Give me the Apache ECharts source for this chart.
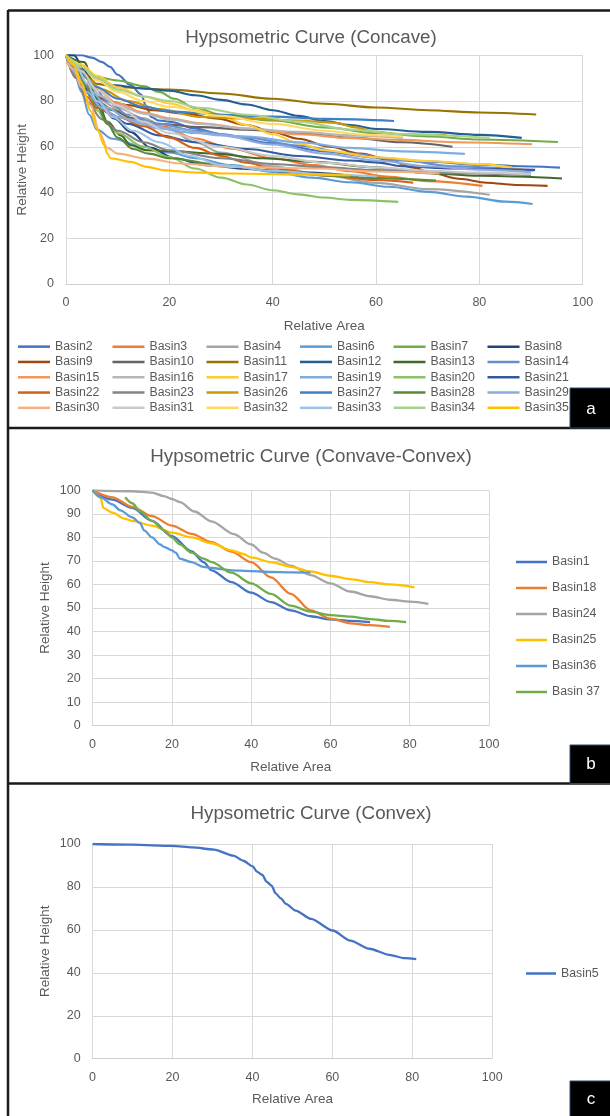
<!DOCTYPE html>
<html><head><meta charset="utf-8">
<script src="https://cdn.jsdelivr.net/npm/echarts@6/dist/echarts.min.js"></script>
<style>html,body{margin:0;padding:0;background:#fff}#c{width:610px;height:1116px}</style>
</head><body><div id="c"></div>
<script>
// ---------- Panel a: concave basins (x = relative area, y = relative height) ----------
const concaveNames = ['Basin2','Basin3','Basin4','Basin6','Basin7','Basin8','Basin9','Basin10','Basin11','Basin12','Basin13','Basin14','Basin15','Basin16','Basin17','Basin19','Basin20','Basin21','Basin22','Basin23','Basin26','Basin27','Basin28','Basin29','Basin30','Basin31','Basin32','Basin33','Basin34','Basin35'];
const concaveColors = ['#4472C4','#ED7D31','#A5A5A5','#5B9BD5','#70AD47','#264478','#9E480E','#636363','#997300','#255E91','#43682B','#698ED0','#F1975A','#B7B7B7','#FFCD33','#7CAFDD','#8CC168','#335AA1','#D26012','#848484','#CC9A00','#3F7FC4','#5A8A39','#8FAADC','#F4B183','#C9C9C9','#FFD966','#9DC3E6','#A9D18E','#FFC000'];

const basin2  = [[0,100],[3,100],[5,99],[7,97],[8.5,95],[10,91.5],[12.5,87],[14.5,83],[15.5,78],[16.5,73],[18,71.5],[20,71],[25,68],[30,65.5],[40,61.5],[50,58],[60,55.3],[70,53.5],[80,52.2],[90,51.4],[95.6,50.9]];
const basin3  = [[0,100],[2,93],[4,85],[6,80],[9,76.5],[12.5,72.5],[19,68.7],[25,63.6],[32,59.2],[40,55],[48,52],[55,49.3],[62,47],[70,45],[80.6,42.9]];
const basin4  = [[0,100],[2,92],[4,86],[6,81],[10,77],[15,72.5],[20,67.5],[25,62],[30,57.5],[40,51.5],[50,47.5],[60,44.2],[70,41.5],[82,39]];
const basin6  = [[0,100],[1.5,93],[3,84],[4.5,74],[6,67.5],[9,63.5],[15,60],[20,57.5],[25,55],[32,52],[40,49],[47.5,46.5],[55,44.5],[62.5,42.5],[70,40.3],[77.6,38.2],[85,36],[90.3,35]];
const basin7  = [[0,100],[2,96],[4,92.5],[6,90.5],[10,89],[15,86.5],[18,84],[21,81],[25,77],[30,74],[40,71.5],[50,68.5],[60,66],[70,64.5],[80,63.2],[95.2,62.1]];
const basin8  = [[0,100],[1.5,100],[3.5,94],[5.4,83],[7.4,76],[9.3,72.4],[12.5,66.5],[16.4,59.5],[21,55],[27,52],[35,50.3],[45,48.8],[56.6,47]];
const basin9  = [[0,100],[2,94],[4,87],[6,82],[8,80],[12,78.2],[17,76],[23,74.5],[29,72.4],[35,69.5],[40,66.5],[45,63.5],[51,60],[57,57],[62.5,54.2],[67,51],[71,48.4],[76,46],[81.4,44.3],[87,43.3],[93.2,42.9]];
const basin10 = [[0,100],[2,93],[4,86],[6,80],[9,76],[13,72.5],[18,70],[26,68.6],[35,67.5],[45,66],[55,64],[65,62],[74.8,60]];
const basin11 = [[0,100],[2,96],[4,91],[6,87.5],[10,86],[20,85],[30,83.3],[40,81],[50,78.8],[60,77.2],[70,76],[80,75],[91,74.1]];
const basin12 = [[0,100],[3,95],[6,90],[9,87],[15,85.5],[20,84.5],[25,82.5],[30,80.5],[35,78.5],[40,76],[45,73.5],[50,71.2],[55,69.5],[60,67.8],[70,66.5],[80,65.2],[88.2,63.9]];
const basin13 = [[0,100],[3.5,97],[6,81],[8,71],[10.6,65],[12.5,60.7],[15.7,58.5],[21,58],[28.6,57],[38,55],[48,53.4],[60,51],[70,48.5],[80,47.3],[96,46.1]];
const basin14 = [[0,100],[2,95],[5,88],[8,80],[12,74],[18,70],[25,67],[35,64],[45,60.5],[55,57],[65,54],[75,51.5],[90.5,49.5]];
const basin15 = [[0,100],[3,92],[6,85],[10,79],[15,75],[20,72.5],[26,70.3],[35,68],[45,65.5],[55,63.8],[65,63],[75,62],[90.2,61.1]];
const basin16 = [[0,100],[2,94],[4,88],[7,82],[10,78],[15,74.5],[20,72],[26,70],[35,68],[45,66.5],[55,65],[65.2,63.8]];
const basin17 = [[0,100],[3,96],[6,91],[10,86],[15,82],[20,79],[25,76],[30,73.5],[35,69.5],[40,65.5],[45,61.5],[50,58.5],[60,55.4],[70,53.8],[80,52.4],[88.5,49.9]];
const basin19 = [[0,100],[2,93],[5,84],[8,77],[12,72],[18,68],[25,66],[35,64.5],[45,62],[55,59.5],[65,58],[77.2,56.9]];
const basin20 = [[0,100],[2,92],[4,84],[6,76],[8,70],[10,66],[15,60],[20,55.5],[25,50.5],[30,46.5],[35,43.5],[40,41],[45,39.2],[50,37.8],[55,36.8],[64.3,35.9]];
const basin21 = [[0,100],[2,92],[5,82],[8,75],[12,70],[18,65],[25,62],[35,59],[45,56],[55,54],[60,53.2],[65,51.5],[75,50.5],[90.8,49.9]];
const basin22 = [[0,100],[2,90],[4,82],[6,77],[10,73],[15,69],[20,64],[25,59.5],[30,56],[35,53],[40,50.5],[50,47.5],[60,45.5],[67.2,44.3]];
const basin23 = [[0,100],[2,90],[4,80],[7,72],[10,67],[15,62],[20,58.5],[30,55],[40,52.5],[50,51],[60,49.8],[75,48.5],[90,47.7]];
const basin26 = [[0,100],[2,95],[4,90],[7,85],[12,80],[18,76.5],[26,73],[35,72.3],[45,71.5],[52,70.5],[56,68.5],[60,66.5],[65,65.5],[73.7,65.2]];
const basin27 = [[0,100],[3,92],[6,86],[10,81],[15,77.5],[20,75.5],[30,74],[40,73.2],[50,72.2],[63.5,71.3]];
const basin28 = [[0,100],[2,94],[4,86],[6,78],[8,70],[10,64],[13,59],[16,57],[20,55],[30,52],[40,49.5],[50,47.5],[60,46.3],[71.6,45.2]];
const basin29 = [[0,100],[2,92],[4,84],[7,77],[10,73],[15,70],[20,68],[30,65],[40,61],[50,57],[60,54],[70,51.5],[80,50],[90,48.8]];
const basin30 = [[0,97],[1.5,94],[3,86],[4.8,78],[6.5,66],[8,59.5],[10,57],[15.7,54.8],[22,52.7],[32,51.2],[48,50.5],[60,49.2],[72.3,48.3]];
const basin31 = [[0,100],[3,93],[6,85],[10,78],[15,71],[20,66],[30,60],[40,56],[50,53],[60,51],[70,49.5],[80,48.7],[90,48]];
const basin32 = [[0,100],[3,95],[6,89],[10,84],[15,80],[20,77.5],[30,73.5],[40,70],[50,67],[58,65.2],[65.3,64.4]];
const basin33 = [[0,100],[2,95],[4,88],[6,80],[9,73],[13,67],[18,62],[24,56],[30,52],[40,49.5],[50,48],[60.1,47]];
const basin34 = [[0,100],[3,95],[6,90],[10,85],[15,82],[20,80],[26,77],[35,74],[45,71],[55,67.5],[65,65.5],[82,63.9]];
const basin35 = [[0,100],[1.5,96],[3,88],[4.8,75.5],[6,68],[7.4,60.7],[8,57],[8.6,55],[12.5,53.4],[15.7,51.2],[19,49.7],[25.4,48.7],[32,48.3],[48,47.8],[55,47.5]];
const concaveData = [basin2,basin3,basin4,basin6,basin7,basin8,basin9,basin10,basin11,basin12,basin13,basin14,basin15,basin16,basin17,basin19,basin20,basin21,basin22,basin23,basin26,basin27,basin28,basin29,basin30,basin31,basin32,basin33,basin34,basin35];

// ---------- Panel b: concave-convex basins ----------
const ccNames = ['Basin1','Basin18','Basin24','Basin25','Basin36','Basin 37'];
const ccColors = ['#4472C4','#ED7D31','#A5A5A5','#FFC000','#5B9BD5','#70AD47'];
const basin1  = [[0,100],[5,96],[10,92.5],[15,87],[20,80.5],[25,74],[28,69.5],[30,66],[35,61],[40,56.5],[45,52.5],[50,49],[55,46.5],[60,45.2],[65,44.5],[70,44]];
const basin18 = [[0,100],[5,97],[10,93],[15,89],[20,85],[25,81.5],[30,78],[35,74],[40,69.5],[45,63],[50,56],[55,49],[60,45.5],[65,43.5],[70,42.7],[75,42]];
const basin24 = [[0,100],[10,99.6],[15,99],[18,97.5],[20,96.3],[22,95],[25.7,91],[30,86.8],[35.6,81.4],[40,77],[43,73.5],[46,71],[50,68],[55,64],[60,60.5],[65,57],[70,55],[75,53.5],[80,52.7],[84.7,51.8]];
const basin25 = [[0,100],[2,97],[2.7,92.5],[5,90.5],[8,88],[10,87],[15,85],[20,82],[25,80],[30,77.5],[35,74.5],[38,73],[40,71.5],[45,69.5],[50,67.5],[55,65.5],[60,63.7],[65,62.3],[70,61],[75,60],[81.2,58.8]];
const basin36 = [[0,100],[2,97],[5,94],[7,91.5],[10,88.5],[12,86],[13,83],[15,80],[17,77],[18,76],[20,74.5],[21,73.5],[22,71],[25,69.5],[28,67.5],[30,67],[35,66],[40,65.7],[45,65.3],[50,65.1],[55,65]];
const basin37 = [[8.2,97],[10,94.5],[12,91],[15,87],[18,83],[20,80],[22,77],[25,73.5],[28,71],[30,69.5],[35,65],[40,60.5],[45,56],[50,51],[55,48.5],[60,47],[65,46.3],[70,45.3],[75,44.5],[79.1,44]];
const ccData = [basin1,basin18,basin24,basin25,basin36,basin37];

// ---------- Panel c: convex basin ----------
const convexNames = ['Basin5'];
const convexColors = ['#4472C4'];
const basin5 = [[0,100],[10,99.7],[20,99.1],[25,98.4],[30.4,97.4],[35.2,94.6],[37.7,92.2],[40.1,89.6],[41.1,87.1],[42.5,85.6],[43.5,82.5],[44.8,80.6],[45.8,77],[47.1,74.7],[48.4,72.1],[50.8,69],[54.7,65.1],[60.1,59.7],[64.5,55],[69.3,51.2],[74.2,48.4],[78.1,46.8],[81,46.4]];
const convexData = [basin5];

const titles = ['Hypsometric Curve (Concave)','Hypsometric Curve (Convave-Convex)','Hypsometric Curve (Convex)'];
const panelLetters = ['a','b','c'];
const xName = 'Relative Area';
const yName = 'Relative Height';

// ---------- styling ----------
const FONT = '"Liberation Sans", Arial, sans-serif';
const TXT = '#595959';
const GRIDC = '#d9d9d9';

function xAxisCfg(gi, gap){
  return {type:'value', gridIndex:gi, min:0, max:100, interval:20,
    name:xName, nameLocation:'middle', nameGap:gap, nameMoveOverlap:false,
    nameTextStyle:{color:TXT, fontSize:13.5, fontFamily:FONT},
    axisLine:{show:true, lineStyle:{color:'#cfcfcf', width:1}},
    axisTick:{show:false},
    axisLabel:{color:TXT, fontSize:12.5, fontFamily:FONT, margin:12},
    splitLine:{show:true, lineStyle:{color:GRIDC, width:1}}};
}
function yAxisCfg(gi, interval, gap){
  return {type:'value', gridIndex:gi, min:0, max:100, interval:interval,
    name:yName, nameLocation:'middle', nameGap:gap, nameMoveOverlap:false,
    nameTextStyle:{color:TXT, fontSize:13.5, fontFamily:FONT},
    axisLine:{show:false}, axisTick:{show:false},
    axisLabel:{color:TXT, fontSize:12.5, fontFamily:FONT, margin:12},
    splitLine:{show:true, lineStyle:{color:GRIDC, width:1}}};
}

const series = [];
function addSeries(names, colors, datas, gi, width, smooth){
  names.forEach((n,i)=>{
    series.push({type:'line', name:n, xAxisIndex:gi, yAxisIndex:gi, data:datas[i],
      symbol:'none', smooth:smooth, smoothMonotone:'x', color:colors[i],
      lineStyle:{width:width, color:colors[i]}, emphasis:{disabled:true}, silent:true});
  });
}
addSeries(concaveNames, concaveColors, concaveData, 0, 2.1, 0.35);
addSeries(ccNames, ccColors, ccData, 1, 2.3, 0.3);
addSeries(convexNames, convexColors, convexData, 2, 2.3, 0.25);

const legendText = {color:TXT, fontSize:12.3, fontFamily:FONT};
const legends = [];
const colLeft = [18, 112.5, 206.5, 300, 393.5, 487.5];
colLeft.forEach((lx,c)=>{
  const d = [];
  for (let r=0; r<5; r++) d.push(concaveNames[r*6+c]);
  legends.push({data:d, orient:'vertical', left:lx, top:339, padding:0, itemGap:0,
    icon:'rect', itemWidth:32, itemHeight:2.5, textStyle:Object.assign({lineHeight:15.3}, legendText),
    selectedMode:false});
});
legends.push({data:ccNames, orient:'vertical', left:516, top:554.5, padding:0, itemGap:11,
  icon:'rect', itemWidth:31, itemHeight:2.5, textStyle:Object.assign({lineHeight:15}, legendText), selectedMode:false});
legends.push({data:convexNames, orient:'vertical', left:526, top:966, padding:0, itemGap:0,
  icon:'rect', itemWidth:30, itemHeight:2.5, textStyle:Object.assign({lineHeight:15}, legendText), selectedMode:false});

const graphics = [
  {type:'line', shape:{x1:8, y1:10.5, x2:610, y2:10.5}, style:{stroke:'#1a1a1a', lineWidth:2.5}},
  {type:'line', shape:{x1:8, y1:10, x2:8, y2:1116}, style:{stroke:'#1a1a1a', lineWidth:2.5}},
  {type:'line', shape:{x1:8, y1:428, x2:610, y2:428}, style:{stroke:'#1a1a1a', lineWidth:2.5}},
  {type:'line', shape:{x1:8, y1:783.5, x2:610, y2:783.5}, style:{stroke:'#1a1a1a', lineWidth:2.5}},
  {type:'rect', shape:{x:570, y:388, width:41, height:40}, style:{fill:'#000', stroke:'#2f4a6e', lineWidth:1}},
  {type:'rect', shape:{x:570, y:745, width:41, height:38.5}, style:{fill:'#000', stroke:'#2f4a6e', lineWidth:1}},
  {type:'rect', shape:{x:570, y:1081, width:41, height:36}, style:{fill:'#000', stroke:'#2f4a6e', lineWidth:1}}
];
const letterPos = [[591,409],[591,764],[591,1099]];
panelLetters.forEach((t,i)=>{
  graphics.push({type:'text', x:letterPos[i][0], y:letterPos[i][1],
    style:{text:t, fill:'#fff', font:'17px ' + FONT, align:'center', verticalAlign:'middle', textAlign:'center', textVerticalAlign:'middle'}});
});
const titleY = [37.5, 456.5, 813.5];
titles.forEach((t,i)=>{
  graphics.push({type:'text', x:311, y:titleY[i],
    style:{text:t, fill:TXT, font:'18.8px ' + FONT, align:'center', verticalAlign:'middle', textAlign:'center', textVerticalAlign:'middle'}});
});

const option = {
  backgroundColor:'#ffffff',
  animation:false,
  textStyle:{fontFamily:FONT},
  grid:[
    {left:66, top:55.3, width:516.7, height:228.7, outerBoundsMode:'none', containLabel:false},
    {left:92.6, top:490.3, width:396.4, height:235.4, outerBoundsMode:'none', containLabel:false},
    {left:92.6, top:844, width:399.6, height:214.7, outerBoundsMode:'none', containLabel:false}
  ],
  xAxis:[xAxisCfg(0,35.5), xAxisCfg(1,35), xAxisCfg(2,33.5)],
  yAxis:[yAxisCfg(0,20,37), yAxisCfg(1,10,40.5), yAxisCfg(2,20,40.5)],
  legend:legends,
  series:series,
  graphic:graphics
};
const chart = echarts.init(document.getElementById('c'), null, {renderer:'canvas'});
chart.setOption(option);
</script></body></html>
